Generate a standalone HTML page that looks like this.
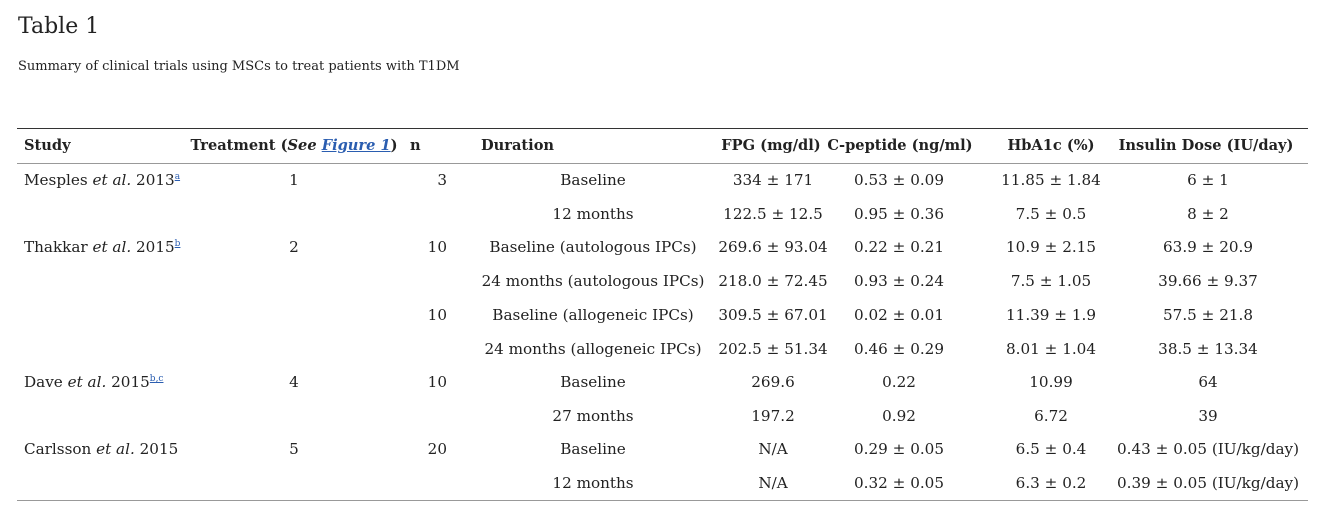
<!DOCTYPE html>
<html><head><meta charset="utf-8"><style>
body{margin:0;width:1322px;height:510px;background:#fff;position:relative;font-family:"DejaVu Serif","Liberation Serif",serif;color:#222;overflow:hidden}
.t{position:absolute;white-space:nowrap;font-size:15.2px;line-height:20px;transform:translateY(-50%)}
.c{transform:translate(-50%,-50%)}
.r{transform:translate(-100%,-50%)}
.h{font-weight:bold;font-size:14.6px}
sup{font-size:9px;color:#2a5db0;text-decoration:underline;vertical-align:6px;line-height:0}
a{color:#2a5db0;text-decoration:underline}
.line{position:absolute;left:17px;width:1291px}
</style></head><body>
<div class="t" style="left:18px;top:27px;font-size:22px;line-height:26px">Table 1</div>
<div class="t" style="left:18px;top:67px;font-size:13px">Summary of clinical trials using MSCs to treat patients with T1DM</div>
<div class="line" style="top:128px;height:1px;background:#333"></div>
<div class="line" style="top:163px;height:1px;background:#999"></div>
<div class="line" style="top:500px;height:1px;background:#999"></div>

<div class="t h" style="left:24px;top:146px">Study</div>
<div class="t h c" style="left:294px;top:146px">Treatment (<i>See <a>Figure 1</a></i>)</div>
<div class="t h" style="left:410px;top:146px">n</div>
<div class="t h" style="left:481px;top:146px">Duration</div>
<div class="t h c" style="left:771px;top:146px">FPG (mg/dl)</div>
<div class="t h c" style="left:900px;top:146px">C-peptide (ng/ml)</div>
<div class="t h c" style="left:1051px;top:146px">HbA1c (%)</div>
<div class="t h c" style="left:1206px;top:146px">Insulin Dose (IU/day)</div>

<div class="t" style="left:24px;top:180px">Mesples <i>et al.</i> 2013<sup>a</sup></div>
<div class="t" style="left:24px;top:247px">Thakkar <i>et al.</i> 2015<sup>b</sup></div>
<div class="t" style="left:24px;top:382px">Dave <i>et al.</i> 2015<sup>b</sup><sup>,c</sup></div>
<div class="t" style="left:24px;top:449px">Carlsson <i>et al.</i> 2015</div>

<div class="t c" style="left:294px;top:180px">1</div>
<div class="t c" style="left:294px;top:247px">2</div>
<div class="t c" style="left:294px;top:382px">4</div>
<div class="t c" style="left:294px;top:449px">5</div>

<div class="t r" style="left:447px;top:180px">3</div>
<div class="t r" style="left:447px;top:247px">10</div>
<div class="t r" style="left:447px;top:315px">10</div>
<div class="t r" style="left:447px;top:382px">10</div>
<div class="t r" style="left:447px;top:449px">20</div>

<div class="t c" style="left:593px;top:180px">Baseline</div>
<div class="t c" style="left:593px;top:214px">12 months</div>
<div class="t c" style="left:593px;top:247px">Baseline (autologous IPCs)</div>
<div class="t c" style="left:593px;top:281px">24 months (autologous IPCs)</div>
<div class="t c" style="left:593px;top:315px">Baseline (allogeneic IPCs)</div>
<div class="t c" style="left:593px;top:349px">24 months (allogeneic IPCs)</div>
<div class="t c" style="left:593px;top:382px">Baseline</div>
<div class="t c" style="left:593px;top:416px">27 months</div>
<div class="t c" style="left:593px;top:449px">Baseline</div>
<div class="t c" style="left:593px;top:483px">12 months</div>

<div class="t c" style="left:773px;top:180px">334 ± 171</div>
<div class="t c" style="left:773px;top:214px">122.5 ± 12.5</div>
<div class="t c" style="left:773px;top:247px">269.6 ± 93.04</div>
<div class="t c" style="left:773px;top:281px">218.0 ± 72.45</div>
<div class="t c" style="left:773px;top:315px">309.5 ± 67.01</div>
<div class="t c" style="left:773px;top:349px">202.5 ± 51.34</div>
<div class="t c" style="left:773px;top:382px">269.6</div>
<div class="t c" style="left:773px;top:416px">197.2</div>
<div class="t c" style="left:773px;top:449px">N/A</div>
<div class="t c" style="left:773px;top:483px">N/A</div>

<div class="t c" style="left:899px;top:180px">0.53 ± 0.09</div>
<div class="t c" style="left:899px;top:214px">0.95 ± 0.36</div>
<div class="t c" style="left:899px;top:247px">0.22 ± 0.21</div>
<div class="t c" style="left:899px;top:281px">0.93 ± 0.24</div>
<div class="t c" style="left:899px;top:315px">0.02 ± 0.01</div>
<div class="t c" style="left:899px;top:349px">0.46 ± 0.29</div>
<div class="t c" style="left:899px;top:382px">0.22</div>
<div class="t c" style="left:899px;top:416px">0.92</div>
<div class="t c" style="left:899px;top:449px">0.29 ± 0.05</div>
<div class="t c" style="left:899px;top:483px">0.32 ± 0.05</div>

<div class="t c" style="left:1051px;top:180px">11.85 ± 1.84</div>
<div class="t c" style="left:1051px;top:214px">7.5 ± 0.5</div>
<div class="t c" style="left:1051px;top:247px">10.9 ± 2.15</div>
<div class="t c" style="left:1051px;top:281px">7.5 ± 1.05</div>
<div class="t c" style="left:1051px;top:315px">11.39 ± 1.9</div>
<div class="t c" style="left:1051px;top:349px">8.01 ± 1.04</div>
<div class="t c" style="left:1051px;top:382px">10.99</div>
<div class="t c" style="left:1051px;top:416px">6.72</div>
<div class="t c" style="left:1051px;top:449px">6.5 ± 0.4</div>
<div class="t c" style="left:1051px;top:483px">6.3 ± 0.2</div>

<div class="t c" style="left:1208px;top:180px">6 ± 1</div>
<div class="t c" style="left:1208px;top:214px">8 ± 2</div>
<div class="t c" style="left:1208px;top:247px">63.9 ± 20.9</div>
<div class="t c" style="left:1208px;top:281px">39.66 ± 9.37</div>
<div class="t c" style="left:1208px;top:315px">57.5 ± 21.8</div>
<div class="t c" style="left:1208px;top:349px">38.5 ± 13.34</div>
<div class="t c" style="left:1208px;top:382px">64</div>
<div class="t c" style="left:1208px;top:416px">39</div>
<div class="t c" style="left:1208px;top:449px">0.43 ± 0.05 (IU/kg/day)</div>
<div class="t c" style="left:1208px;top:483px">0.39 ± 0.05 (IU/kg/day)</div>
</body></html>
